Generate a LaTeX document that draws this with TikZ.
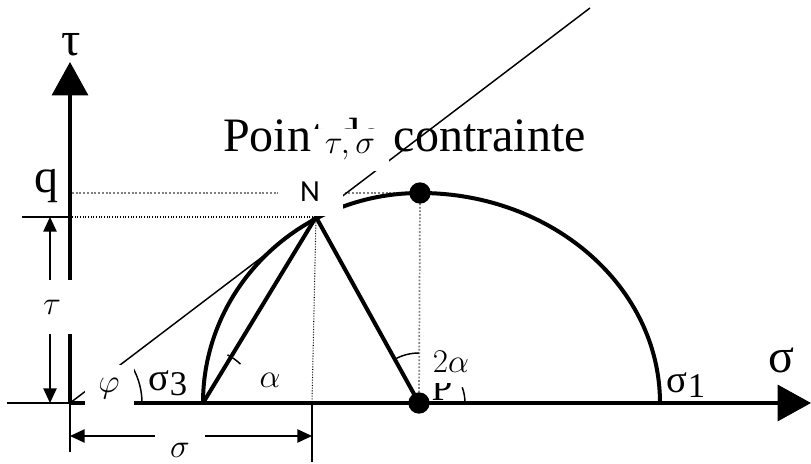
\documentclass[tikz,border=0pt]{standalone}
\usepackage{fontspec}
\setmainfont{Liberation Serif}
\newfontfamily\labelsans{Carlito}
\usetikzlibrary{arrows.meta}
\tikzset{
  axis/.style={line width=2.4pt, -{Triangle[length=25pt,width=27pt]}},
  dimline/.style={line width=1.1pt, {Triangle[length=11pt,width=10pt]}-{Triangle[length=11pt,width=10pt]}},
  thin line/.style={line width=1.1pt},
  thick line/.style={line width=3pt},
  dot/.style={circle, fill=black, inner sep=0pt, minimum size=16pt},
  patch/.style={fill=white, inner sep=0pt},
  big/.style={font=\fontsize{36}{40}\selectfont, inner sep=0pt},
  mathlbl/.style={font=\fontsize{24}{26}\selectfont},
}
\begin{document}
\begin{tikzpicture}[x=0.75pt, y=0.75pt]
\useasboundingbox (0,0) rectangle (811,464);
% points of the Mohr diagram
\coordinate (O) at (70,61);
\coordinate (S3) at (203,61);
\coordinate (S1) at (660,61);
\coordinate (T) at (420,271);
\coordinate (N) at (316,247);
\coordinate (Nfoot) at (312,61);
\coordinate (E) at (590,456);
% axes
\draw[axis] (O) -- (70,402) coordinate (tauTip);
\draw[axis] (O) -- (811,61) coordinate (sigTip);
% dotted guides
\draw[gray, line width=1.5pt, dash pattern=on 1.5pt off 1.3pt] (72,271) -- (T);
\draw[line width=0.8pt, dash pattern=on 0.8pt off 1.2pt] (72,247) -- (N);
\draw[gray, line width=1.3pt, dash pattern=on 1.3pt off 1.3pt] (T) -- (419,61);
\draw[line width=0.8pt, dash pattern=on 0.8pt off 1.2pt] (N) -- (Nfoot);
% envelope
\draw[thin line] (O) -- (E);
% circle
\draw[thick line] (S3) arc[start angle=180, end angle=90, x radius=217, y radius=210]
  arc[start angle=90, end angle=0, x radius=240, y radius=210];
\draw[thick line] (S3) -- (N) -- (419,61);
% angle arcs
\draw[thin line] ([shift={(0:72)}]O) arc[start angle=0, end angle=29, radius=72];
\draw[thin line] ([shift={(46:54)}]S3) arc[start angle=46, end angle=63, radius=54];
\draw[thin line] (419,111) arc[start angle=90, end angle=119, radius=50];
\draw[thin line] (465,61) arc[start angle=0, end angle=20, radius=46];
% dimensions
\draw[thin line] (22,247) -- (70,247);
\draw[thin line] (7,61) -- (O);
\draw[dimline] (50,247) -- (50,61);
\draw[thin line] (O) -- (70,12);
\draw[thin line] (Nfoot) -- (312,2);
\draw[dimline] (70,28) -- (312,28);
% texts
\node[big, anchor=base west] (title) at (223,312) {Point de contrainte};
\node[big] (tauLab) at (71,419) {τ};
\node[big] (sigLab) at (781,104) {σ};
\node[big] (qLab) at (47,278) {q};
\node[font=\fontsize{29}{30}\selectfont] (s3Lab) at (168,81) {σ\raisebox{-4pt}{\fontsize{26}{26}\selectfont 3}};
\node[font=\fontsize{29}{30}\selectfont] (s1Lab) at (686,79) {σ\raisebox{-4pt}{\fontsize{26}{26}\selectfont 1}};
\node[font=\fontsize{28}{30}\selectfont] (PLab) at (442,76) {P};
\node[mathlbl] (alphaLab) at (270,84) {$\alpha$};
% white label patches
\node[patch, minimum width=48.75pt, minimum height=36pt, font=\labelsans\fontsize{23}{24}\selectfont] (NLab) at (310,272) {N};
\node[patch, mathlbl, minimum width=58.5pt, minimum height=31.5pt] (NcoordLab) at (350,314) {$\tau,\sigma$};
\node[patch, mathlbl, minimum width=40.5pt, minimum height=31.5pt] (twoAlphaLab) at (451,102) {$2\alpha$};
\node[patch, mathlbl, minimum width=36.75pt, minimum height=36pt] (phiLab) at (109,75) {$\varphi$};
\node[patch, mathlbl, minimum width=30pt, minimum height=40pt] (tauDim) at (52,157) {$\tau$};
\node[patch, mathlbl, minimum width=37.5pt, minimum height=26pt] (sigDim) at (180,14) {$\sigma$};
% points
\node[dot] (top) at (T) {};
\node[dot] (P) at (419,61) {};
\end{tikzpicture}
\end{document}
